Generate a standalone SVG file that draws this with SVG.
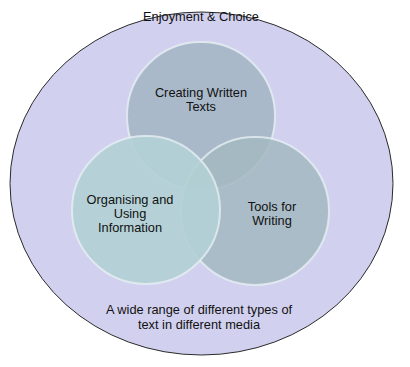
<svg xmlns="http://www.w3.org/2000/svg" width="410" height="367" viewBox="0 0 410 367">
<style>
text{font-family:"Liberation Sans",Arial,sans-serif;font-size:12.8px;fill:#111;text-anchor:middle}
.c{stroke:#e6eff2;stroke-width:2;stroke-opacity:0.8}
</style>
<rect width="410" height="367" fill="#ffffff"/>
<g id="outer">
<ellipse cx="201.5" cy="183.5" rx="191.5" ry="171.5" fill="#d1d1ef" stroke="#2a2a2a" stroke-width="1"/>
<text x="201" y="21">Enjoyment &amp; Choice</text>
<text x="199" y="314">A wide range of different types of</text>
<text x="199" y="329">text in different media</text>
</g>
<g id="creating">
<circle cx="201" cy="116" r="74" class="c" fill="#a6b7c6" fill-opacity="0.95"/>
<text x="201" y="97">Creating Written</text>
<text x="201" y="111">Texts</text>
</g>
<g id="tools">
<circle cx="255" cy="211" r="74" class="c" fill="#a3b8c0" fill-opacity="0.85"/>
<text x="272" y="211">Tools for</text>
<text x="272" y="225">Writing</text>
</g>
<g id="organising">
<circle cx="146" cy="210" r="74" class="c" fill="#b2d0d5" fill-opacity="0.92"/>
<text x="130" y="204">Organising and</text>
<text x="130" y="218">Using</text>
<text x="130" y="232">Information</text>
</g>
</svg>
